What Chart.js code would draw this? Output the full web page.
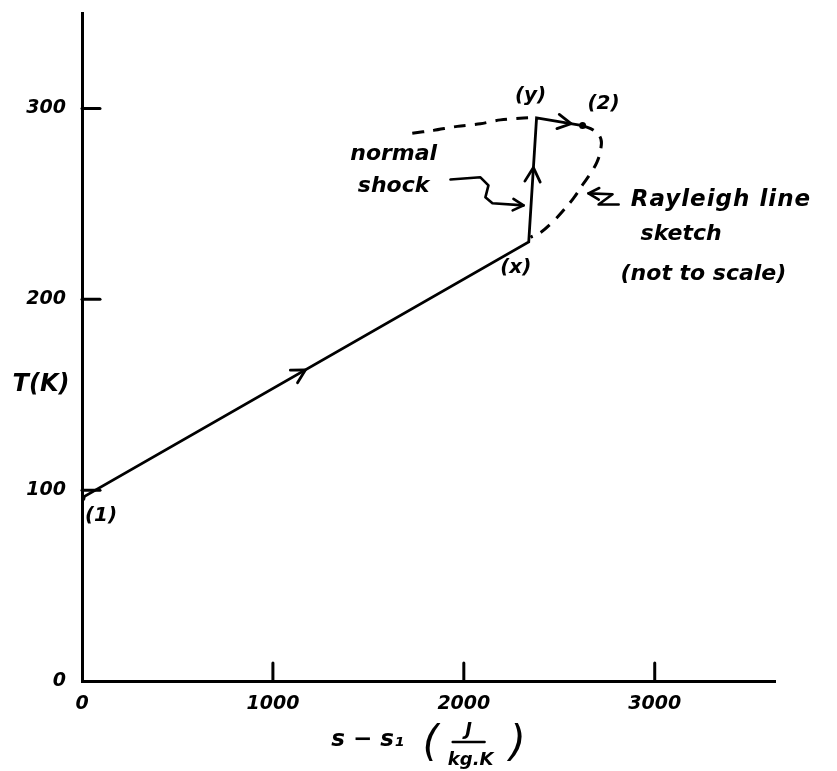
<!DOCTYPE html>
<html><head><meta charset="utf-8">
<script src="https://cdn.jsdelivr.net/npm/chart.js@4.4.1/dist/chart.umd.min.js"></script>
<style>html,body{margin:0;padding:0;background:#fff}#wrap{width:837px;height:771px}</style>
</head><body><div id="wrap"><canvas id="c" width="837" height="771"></canvas></div>
<script>
// ---- data ----
const xTicks = [0, 1000, 2000, 3000];
const yTicks = [0, 100, 200, 300];
const stateLabels = ['(1)', '(x)', '(y)', '(2)'];
const processS = [0, 2340, 2381, 2622];
const processT = [96, 230, 295, 291];
const rayleighUpperS = [1730, 1841, 1966, 2087, 2192, 2313, 2381];
const rayleighUpperT = [287, 288.5, 290.6, 292, 294, 295, 295.3];
const rayleighLowerS = [2622, 2680, 2718, 2716, 2698, 2664, 2622, 2575, 2522, 2470, 2402, 2349];
const rayleighLowerT = [291, 288.5, 284, 278, 272, 266, 260, 253, 246.6, 241, 235, 232.5];
const noteTexts = ['normal', 'shock', 'Rayleigh line', 'sketch', '(not to scale)'];
const noteS = [1405, 1445, 2874, 2926, 2821];
const noteT = [272.8, 256, 249, 231, 210];
const shockPointerS = [1930, 2087, 2129, 2113, 2150, 2313];
const shockPointerT = [262.8, 263.9, 259.7, 253.4, 250.3, 249.2];
const rayleighPointerS = [2811, 2706, 2779, 2653];
const rayleighPointerT = [249.7, 249.7, 255, 255.5];
const yTitle = 'T(K)';
const xTitleMain = 's − s₁';
const xTitleNum = 'J';
const xTitleDen = 'kg.K';

// ---- styles ----
const FAM = "'DejaVu Sans', sans-serif";
const labelOffsets = [[19, 18], [-13, 26], [-6, -22], [21, -22]];
const noteSpacing = ['0px', '0px', '1px', '0px', '0px'];
const noteSizes = [22, 22, 23, 22, 22];

const pts = (xs, ys) => xs.map((x, i) => ({x: x, y: ys[i]}));

const sketchPlugin = {
  id: 'sketch',
  afterDraw(chart) {
    const ctx = chart.ctx, xs = chart.scales.x, ys = chart.scales.y, ca = chart.chartArea;
    const X = v => xs.getPixelForValue(v), Y = v => ys.getPixelForValue(v);
    ctx.save();
    ctx.strokeStyle = '#000'; ctx.fillStyle = '#000'; ctx.lineCap = 'round'; ctx.lineJoin = 'round';
    // inward ticks
    ctx.lineWidth = 3;
    xTicks.forEach(v => { if (v === 0) return; ctx.beginPath(); ctx.moveTo(X(v), ca.bottom); ctx.lineTo(X(v), ca.bottom - 18); ctx.stroke(); });
    yTicks.forEach(v => { if (v === 0) return; ctx.beginPath(); ctx.moveTo(ca.left, Y(v)); ctx.lineTo(ca.left + 18, Y(v)); ctx.stroke(); });

    const head = (tx, ty, ang, len) => {
      ctx.beginPath();
      ctx.moveTo(tx - len * Math.cos(ang - 0.5), ty - len * Math.sin(ang - 0.5));
      ctx.lineTo(tx, ty);
      ctx.lineTo(tx - len * Math.cos(ang + 0.5), ty - len * Math.sin(ang + 0.5));
      ctx.stroke();
    };
    const along = (i, f, len) => {
      const x0 = X(processS[i]), y0 = Y(processT[i]), x1 = X(processS[i + 1]), y1 = Y(processT[i + 1]);
      head(x0 + (x1 - x0) * f, y0 + (y1 - y0) * f, Math.atan2(y1 - y0, x1 - x0), len);
    };
    ctx.lineWidth = 2.8;
    along(0, 0.5, 15);
    along(1, 0.6, 16);
    along(2, 0.75, 15);

    // pointers
    const poly = (sArr, tArr) => {
      ctx.beginPath();
      sArr.forEach((s, i) => { const px = X(s), py = Y(tArr[i]); if (i) ctx.lineTo(px, py); else ctx.moveTo(px, py); });
      ctx.stroke();
      const n = sArr.length;
      const ax = X(sArr[n - 1]), ay = Y(tArr[n - 1]), bx = X(sArr[n - 2]), by = Y(tArr[n - 2]);
      head(ax, ay, Math.atan2(ay - by, ax - bx), 12);
    };
    ctx.lineWidth = 2.6;
    poly(shockPointerS, shockPointerT);
    poly(rayleighPointerS, rayleighPointerT);

    // state labels
    ctx.font = 'italic bold 20px ' + FAM;
    ctx.textAlign = 'center'; ctx.textBaseline = 'middle';
    stateLabels.forEach((t, i) => {
      ctx.fillText(t, X(processS[i]) + labelOffsets[i][0], Y(processT[i]) + labelOffsets[i][1]);
    });
    // notes
    ctx.textAlign = 'left'; ctx.textBaseline = 'alphabetic';
    noteTexts.forEach((t, i) => {
      ctx.font = 'italic bold ' + noteSizes[i] + 'px ' + FAM;
      ctx.letterSpacing = noteSpacing[i];
      ctx.fillText(t, X(noteS[i]), Y(noteT[i]));
    });
    ctx.letterSpacing = '0px';

    // axis titles
    ctx.font = 'italic bold 24px ' + FAM;
    ctx.textAlign = 'center'; ctx.textBaseline = 'middle';
    ctx.fillText(yTitle, ca.left - 41, Y(155));
    const cx = X(1800), ty = ca.bottom;
    ctx.font = 'italic bold 23px ' + FAM;
    ctx.fillText(xTitleMain, cx - 58, ty + 59);
    ctx.font = 'italic bold 18px ' + FAM;
    ctx.fillText(xTitleNum, cx + 43, ty + 49);
    ctx.fillText(xTitleDen, cx + 45, ty + 79);
    ctx.lineWidth = 2.4;
    ctx.beginPath(); ctx.moveTo(cx + 27, ty + 61); ctx.lineTo(cx + 59, ty + 61); ctx.stroke();
    ctx.font = 'italic 42px ' + FAM;
    ctx.fillText('(', cx + 5, ty + 64);
    ctx.fillText(')', cx + 92, ty + 64);
    ctx.restore();
  }
};

const tickFont = {family: FAM, size: 19, style: 'italic', weight: 'bold'};
new Chart(document.getElementById('c').getContext('2d'), {
  type: 'scatter',
  data: {datasets: [
    {data: pts(processS, processT), showLine: true, borderColor: '#000', borderWidth: 2.8, tension: 0,
     pointRadius: [3.5, 0, 0, 3.5], pointBackgroundColor: '#000', pointBorderWidth: 0},
    {data: pts(rayleighUpperS, rayleighUpperT), showLine: true, borderColor: '#000', borderWidth: 3,
     borderDash: [12, 9], tension: 0.3, pointRadius: 0},
    {data: pts(rayleighLowerS, rayleighLowerT), showLine: true, borderColor: '#000', borderWidth: 3,
     borderDash: [12, 9], tension: 0.4, pointRadius: 0}
  ]},
  options: {
    responsive: false, animation: false, events: [],
    layout: {padding: {top: 13, right: 62, left: 0, bottom: 0}},
    plugins: {legend: {display: false}, tooltip: {enabled: false}},
    scales: {
      x: {type: 'linear', min: 0, max: 3630,
        afterBuildTicks: s => { s.ticks = xTicks.map(v => ({value: v})); },
        afterFit: s => { s.height = 90; s.paddingLeft = 0; s.paddingRight = 0; },
        grid: {display: false, drawTicks: false},
        border: {display: true, color: '#000', width: 3},
        ticks: {padding: 12, color: '#000', font: tickFont, maxRotation: 0, minRotation: 0, autoSkip: false,
          callback: v => String(v)}},
      y: {type: 'linear', min: 0, max: 350,
        afterBuildTicks: s => { s.ticks = yTicks.map(v => ({value: v})); },
        afterFit: s => { s.width = 82; s.paddingTop = 0; s.paddingBottom = 0; },
        grid: {display: false, drawTicks: false},
        border: {display: true, color: '#000', width: 3},
        ticks: {padding: 16, color: '#000', font: tickFont, autoSkip: false,
          callback: v => String(v)}}
    }
  },
  plugins: [sketchPlugin]
});
</script></body></html>
